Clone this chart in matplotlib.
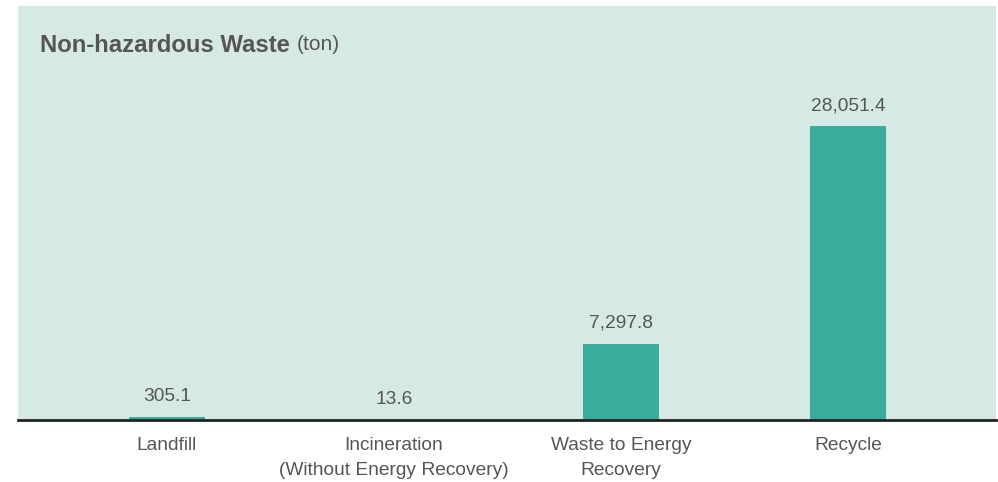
import matplotlib
matplotlib.use('Agg')
import matplotlib.pyplot as plt

# Data
categories = ['Landfill', 'Incineration\n(Without Energy Recovery)',
              'Waste to Energy\nRecovery', 'Recycle']
values = [305.1, 13.6, 7297.8, 28051.4]
value_labels = ['305.1', '13.6', '7,297.8', '28,051.4']

plt.rcParams['font.family'] = ['Liberation Sans', 'DejaVu Sans']

bg = '#d7e9e5'
bar_color = '#38ad9c'
text_color = '#555555'

fig = plt.figure(figsize=(9.98, 4.82), dpi=100)
W, H = 998, 482
# axes in pixel coordinates: left 18, right 996, top 6, bottom 420
ax = fig.add_axes([18 / W, (H - 420) / H, (996 - 18) / W, (420 - 6) / H])
ax.set_facecolor(bg)

x = range(len(categories))
ax.bar(x, values, width=0.335, color=bar_color, zorder=2)

for xi, v, lab in zip(x, values, value_labels):
    ax.annotate(lab, (xi, v), xytext=(0, 8.5), textcoords='offset points',
                ha='center', va='bottom', fontsize=13.8, color=text_color)

ax.set_xlim(-0.656, 3.652)
ax.set_ylim(0, 39500)
ax.set_yticks([])
ax.set_xticks(list(x))
ax.set_xticklabels(categories, fontsize=13.8, color=text_color, linespacing=1.6)
ax.tick_params(axis='x', length=0, pad=12.5)

for side in ['top', 'left', 'right']:
    ax.spines[side].set_visible(False)
ax.spines['bottom'].set_color('#222222')
ax.spines['bottom'].set_linewidth(2)

# Title: bold part plus regular unit
t1 = fig.text(40 / W, 1 - 45 / H, 'Non-hazardous Waste', fontsize=17.2,
              fontweight='bold', color=text_color, va='center', ha='left')
fig.canvas.draw()
bb = t1.get_window_extent()
fig.text((bb.x1 + 7) / W, 1 - 45 / H, '(ton)', fontsize=15,
         color=text_color, va='center', ha='left')

fig.savefig('out.png', dpi=100)
